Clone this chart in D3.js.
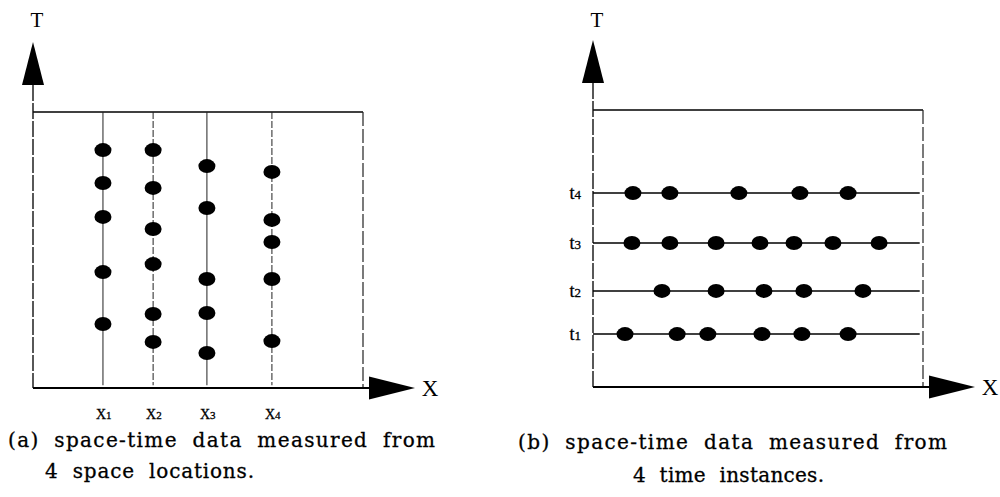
<!DOCTYPE html>
<html>
<head>
<meta charset="utf-8">
<script src="https://cdn.jsdelivr.net/npm/d3@7/dist/d3.min.js"></script>
<style>
body { margin: 0; background: #fff; }
svg { display: block; }
text { font-family: "DejaVu Serif", "Liberation Serif", serif; fill: #000; }
.cap { stroke: #000; stroke-width: 0.3px; }
</style>
</head>
<body>
<script>
// panel (a): 4 space locations, each measured at its own times
var spaceLabels = ["1", "2", "3", "4"];
var spacePos = [21.2, 36.4, 52.7, 72.4];
var x1Times = [86.2, 74.3, 62.0, 42.0, 23.2];
var x2Times = [86.2, 72.5, 57.6, 44.9, 26.8, 16.7];
var x3Times = [80.4, 65.2, 39.5, 27.2, 12.7];
var x4Times = [78.3, 60.9, 52.9, 39.5, 17.0];
var spaceTimes = [x1Times, x2Times, x3Times, x4Times];

// panel (b): 4 time instances, each measured at its own places
var timeLabels = ["1", "2", "3", "4"];
var timePos = [19.1, 34.7, 52.0, 70.0];
var t1Places = [9.7, 25.5, 34.8, 51.2, 63.3, 77.3];
var t2Places = [20.9, 37.3, 51.8, 63.9, 81.8];
var t3Places = [11.8, 23.3, 37.3, 50.6, 60.9, 72.7, 86.7];
var t4Places = [12.1, 23.3, 44.2, 62.7, 77.3];
var timePlaces = [t1Places, t2Places, t3Places, t4Places];

var captionA = ["(a) space-time data measured from", "4 space locations."];
var captionB = ["(b) space-time data measured from", "4 time instances."];

var width = 1000, height = 497;

var svg = d3.select("body").append("svg")
  .attr("width", width)
  .attr("height", height);

var xA = d3.scaleLinear().domain([0, 100]).range([33, 363]);
var yA = d3.scaleLinear().domain([0, 100]).range([388, 112]);
var xB = d3.scaleLinear().domain([0, 100]).range([593, 923]);
var yB = d3.scaleLinear().domain([0, 100]).range([387, 110]);

function frame(g, x, y) {
  var x0 = x(0), x1 = x(100), y0 = y(0), y1 = y(100);
  // top edge
  g.append("line").attr("x1", x0).attr("x2", x1).attr("y1", y1).attr("y2", y1)
    .attr("stroke", "#000").attr("stroke-width", 1.6);
  // right edge, broken like the scan
  g.append("line").attr("x1", x1).attr("x2", x1).attr("y1", y1).attr("y2", y0)
    .attr("stroke", "#222").attr("stroke-width", 1.2).attr("stroke-dasharray", "14,3");
  // T axis
  g.append("line").attr("x1", x0).attr("x2", x0).attr("y1", y1 - 27).attr("y2", y0)
    .attr("stroke", "#111").attr("stroke-width", 1.4).attr("stroke-dasharray", "16,2");
  // X axis
  g.append("line").attr("x1", x0).attr("x2", x1 + 6).attr("y1", y0).attr("y2", y0)
    .attr("stroke", "#000").attr("stroke-width", 2.2);
  // arrow heads
  g.append("path")
    .attr("d", "M" + x0 + "," + (y1 - 70) + "L" + (x0 + 11) + "," + (y1 - 27) + "L" + (x0 - 11) + "," + (y1 - 27) + "Z")
    .attr("fill", "#000");
  g.append("path")
    .attr("d", "M" + (x1 + 52) + "," + y0 + "L" + (x1 + 6) + "," + (y0 + 11.5) + "L" + (x1 + 6) + "," + (y0 - 11.5) + "Z")
    .attr("fill", "#000");
  g.append("text").attr("x", x0 + 4).attr("y", 27).attr("text-anchor", "middle")
    .style("font-family", "Liberation Serif")
    .style("font-size", "21px").text("T");
  g.append("text").attr("x", x1 + 67).attr("y", y0 + 8).attr("text-anchor", "middle")
    .style("font-family", "Liberation Serif")
    .style("font-size", "23px").text("X");
}

// fit each caption line to its span: wider word gaps first, then letters
function caption(lines, xs, baselines) {
  lines.forEach(function(s, i) {
    var t = svg.append("text")
      .attr("class", "cap")
      .attr("x", xs[i][0]).attr("y", baselines[i])
      .style("font-size", "20px")
      .text(s);
    var gaps = s.split(" ").length - 1;
    var extra = (xs[i][1] - xs[i][0]) - t.node().getComputedTextLength();
    var ws = gaps ? Math.max(0, Math.min(7, extra / gaps)) : 0;
    var ls = Math.max(0, (extra - ws * gaps) / (s.length - 1));
    t.style("word-spacing", ws + "px").style("letter-spacing", ls + "px");
  });
}

// ---- panel (a)
var ga = svg.append("g");
frame(ga, xA, yA);

spacePos.forEach(function(p, i) {
  ga.append("line")
    .attr("x1", xA(p)).attr("x2", xA(p))
    .attr("y1", yA(100)).attr("y2", yA(1))
    .attr("stroke", "#222").attr("stroke-width", 1)
    .attr("stroke-dasharray", i % 2 ? "7,2" : null);
  ga.selectAll(null).data(spaceTimes[i]).enter().append("ellipse")
    .attr("cx", xA(p)).attr("cy", function(d) { return yA(d); })
    .attr("rx", 8.5).attr("ry", 7)
    .attr("fill", "#000");
  var lab = ga.append("text")
    .attr("class", "cap")
    .attr("x", xA(p) - 7).attr("y", 419)
    .style("font-family", "Liberation Serif")
    .style("font-size", "14px").text("X");
  lab.append("tspan").style("font-size", "11px").text(spaceLabels[i]);
});

// ---- panel (b)
var gb = svg.append("g");
frame(gb, xB, yB);

timePos.forEach(function(p, i) {
  gb.append("line")
    .attr("x1", xB(0)).attr("x2", xB(99))
    .attr("y1", yB(p)).attr("y2", yB(p))
    .attr("stroke", "#000").attr("stroke-width", 1.5);
  gb.selectAll(null).data(timePlaces[i]).enter().append("ellipse")
    .attr("cx", function(d) { return xB(d); }).attr("cy", yB(p))
    .attr("rx", 8.5).attr("ry", 7)
    .attr("fill", "#000");
  var lab = gb.append("text")
    .attr("class", "cap")
    .attr("x", 581).attr("y", yB(p) + 6)
    .attr("text-anchor", "end")
    .style("font-family", "Liberation Serif")
    .style("font-size", "18px").text("t");
  lab.append("tspan").style("font-size", "13px").text(timeLabels[i]);
});

caption(captionA, [[8, 435], [45, 254]], [447, 478]);
caption(captionB, [[518, 947], [633, 824]], [449, 482]);
</script>
</body>
</html>
